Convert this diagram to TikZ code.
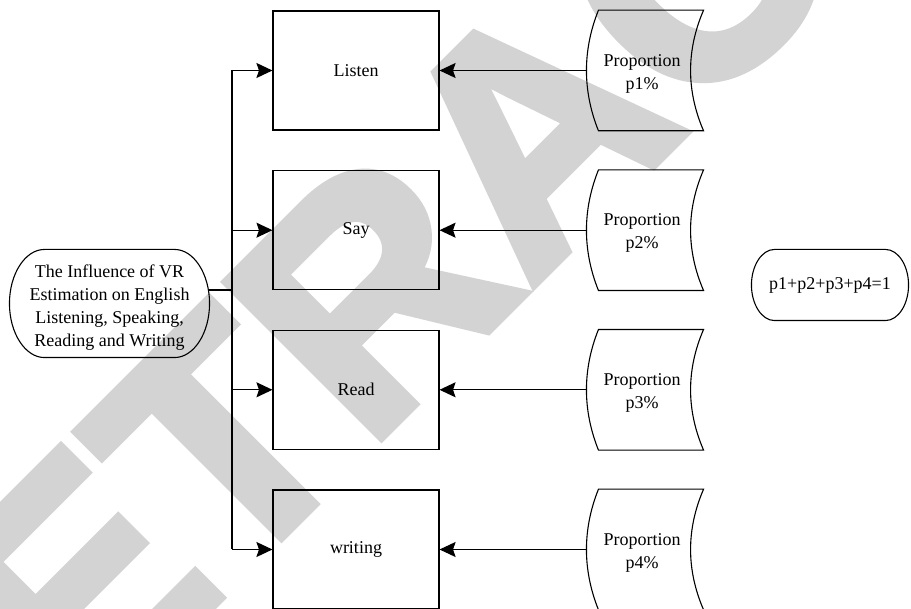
\documentclass[tikz,border=0pt]{standalone}
\usepackage{fontspec}
\setmainfont{Liberation Serif}
\newfontfamily\wmfont{Liberation Sans Bold}[FakeBold=3]
\usetikzlibrary{arrows.meta,calc}
\definecolor{wmgray}{RGB}{211,211,211}

\begin{document}
\begin{tikzpicture}[x=1pt,y=-1pt,
  line width=1.1pt,
  lbl/.style={font=\fontsize{18}{23}\selectfont, align=center, inner sep=0pt},
  box/.style={draw, lbl, minimum width=166pt, minimum height=119pt},
  tape/.style={minimum width=110pt, minimum height=119.5pt, inner sep=0pt},
  arr/.style={-{Stealth[length=16pt,width=15pt,inset=2.5pt]}},
  wm/.style={text=wmgray, inner sep=0pt,
    font=\wmfont\fontsize{318}{318}\selectfont}
]
\useasboundingbox (0,0) rectangle (911,609);

% watermark lettering, under everything else
\begin{scope}
  \clip (0,0) rectangle (911,609);
  \node[wm, rotate=45, anchor=base] (stamp) at (610,208) {RETRACTED};
\end{scope}

% start terminal
\node[minimum width=199pt, minimum height=107pt, inner sep=0pt,
  label={[lbl, yshift=-4pt]center:{The Influence of VR\\Estimation on English\\Listening, Speaking,\\Reading and Writing}}]
  (start) at (109.5,303.5) {};
\draw ($(start.north west)+(35,0)$) -- ($(start.north east)+(-35,0)$)
  .. controls ($(start.north east)+(-15.7,0)$) and ($(start.east)+(0,-29.5)$) .. (start.east)
  .. controls ($(start.east)+(0,29.5)$) and ($(start.south east)+(-15.7,0)$) .. ($(start.south east)+(-35,0)$)
  -- ($(start.south west)+(35,0)$)
  .. controls ($(start.south west)+(15.7,0)$) and ($(start.west)+(0,29.5)$) .. (start.west)
  .. controls ($(start.west)+(0,-29.5)$) and ($(start.north west)+(15.7,0)$) .. cycle;

% skill boxes
\node[box] (listen)  at (356,70.5)  {Listen};
\node[box] (say)     at (356,230.2) {Say};
\node[box] (read)    at (356,389.8) {Read};
\node[box] (writing) at (356,549.5) {writing};

% proportion tapes
\foreach \n/\y/\t in {p1/70.5/p1\%, p2/230.2/p2\%, p3/389.8/p3\%, p4/549.5/p4\%}{
  \node[tape, label={[lbl, yshift=-3pt]center:{Proportion\\\t}}] (\n) at (642,\y) {};
  \draw ($(\n.north west)+(12,0)$) -- ($(\n.north east)+(6,0)$)
    .. controls ($(\n.north east)+(-11.3,40)$) and ($(\n.south east)+(-11.3,-40)$) .. ($(\n.south east)+(6,0)$)
    -- ($(\n.south west)+(12,0)$)
    .. controls ($(\n.south west)+(-4,-40)$) and ($(\n.north west)+(-4,40)$) .. cycle;
}

% sum terminal
\node[lbl, minimum width=156pt, minimum height=70pt] (sum) at (830,285) {p1+p2+p3+p4=1};
\draw ($(sum.north west)+(23,0)$) -- ($(sum.north east)+(-23,0)$)
  .. controls ($(sum.north east)+(-10.3,0)$) and ($(sum.east)+(0,-19.3)$) .. (sum.east)
  .. controls ($(sum.east)+(0,19.3)$) and ($(sum.south east)+(-10.3,0)$) .. ($(sum.south east)+(-23,0)$)
  -- ($(sum.south west)+(23,0)$)
  .. controls ($(sum.south west)+(10.3,0)$) and ($(sum.west)+(0,19.3)$) .. (sum.west)
  .. controls ($(sum.west)+(0,-19.3)$) and ($(sum.north west)+(10.3,0)$) .. cycle;

% trunk and branches
\coordinate (j) at (232,290);
\draw ([yshift=13.5pt,xshift=-1pt]start.east) -- (j);
\draw (j |- listen.west) -- (j |- writing.west);
\foreach \b in {listen,say,read,writing}
  \draw[arr] (j |- \b.west) -- (\b.west);

% proportions feed the boxes
\draw[arr] (p1.west) -- (listen.east);
\draw[arr] (p2.west) -- (say.east);
\draw[arr] (p3.west) -- (read.east);
\draw[arr] (p4.west) -- (writing.east);
\end{tikzpicture}
\end{document}
